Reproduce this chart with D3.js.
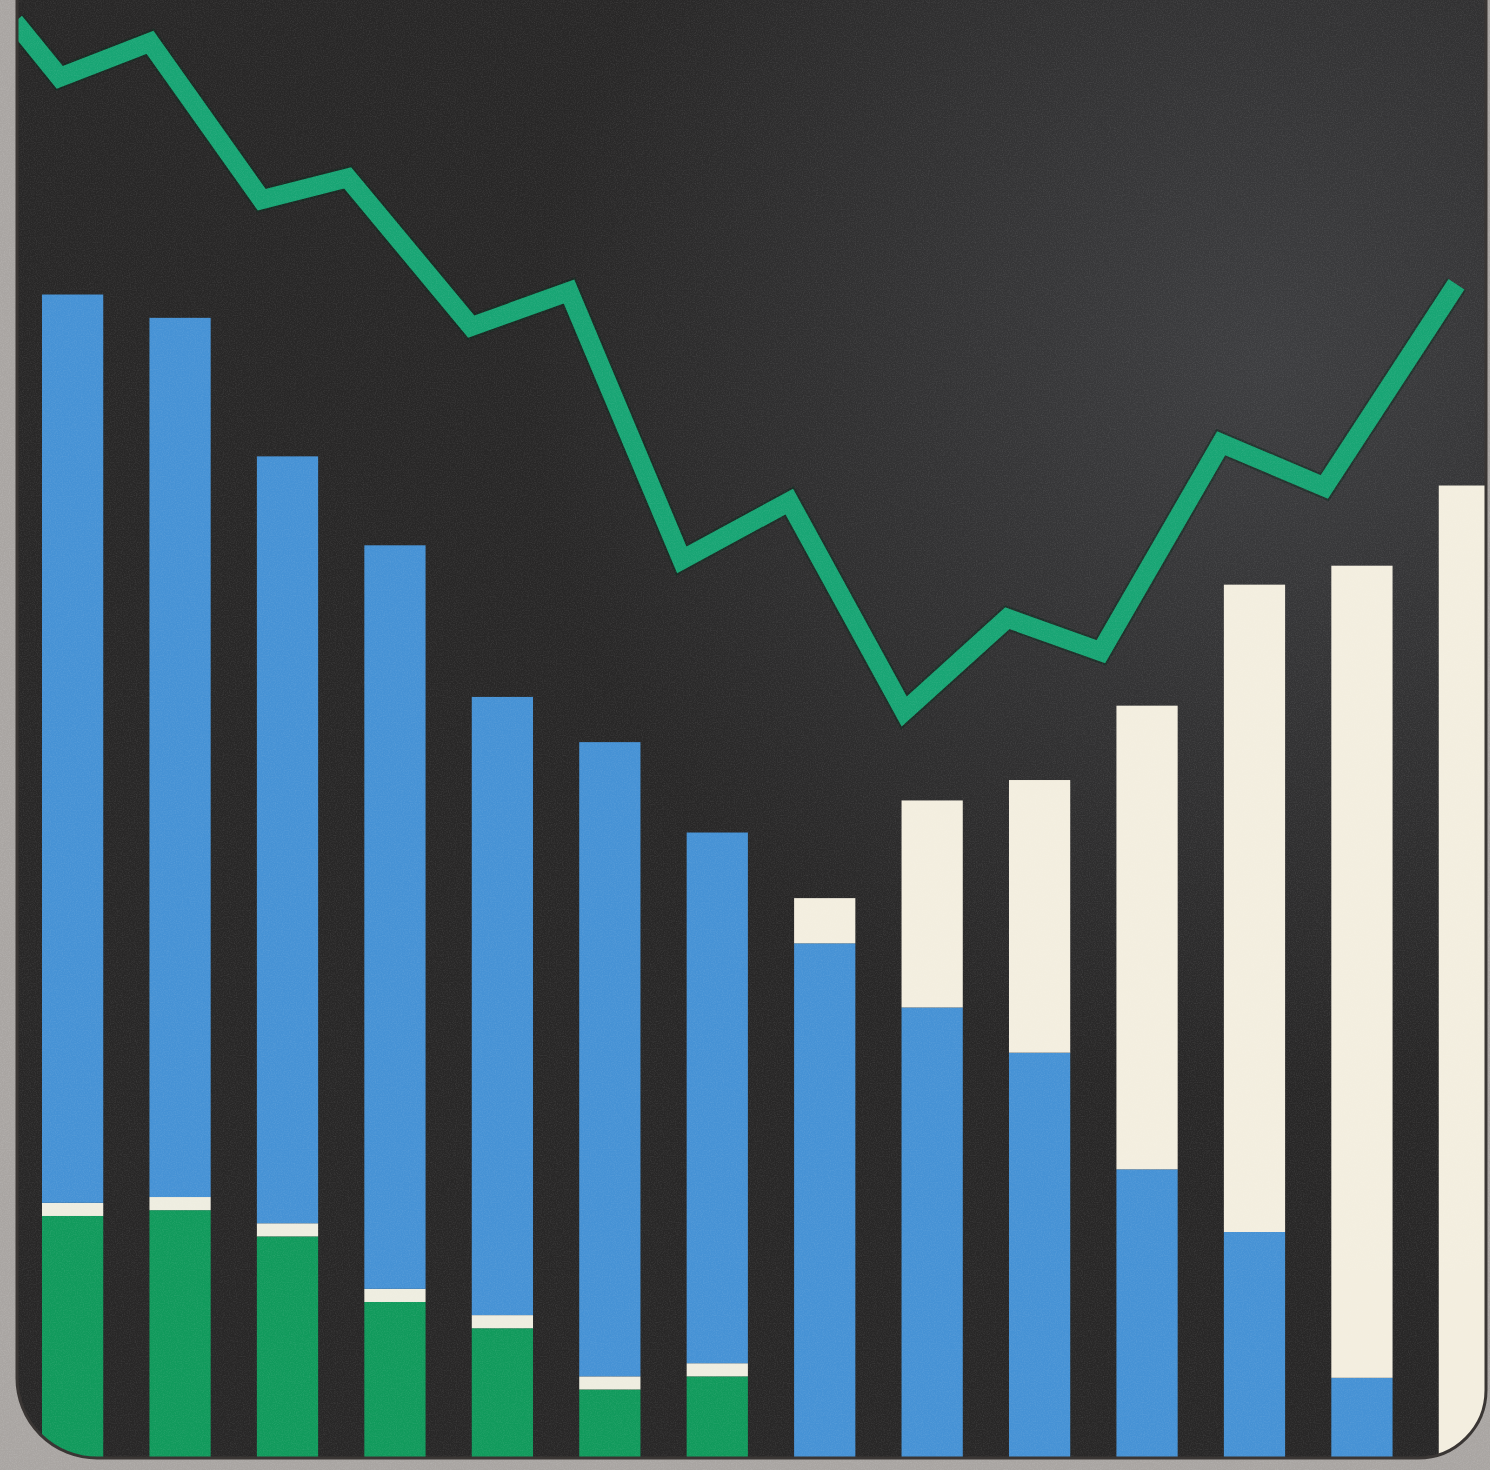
<!DOCTYPE html>
<html>
<head>
<meta charset="utf-8">
<script src="https://cdn.jsdelivr.net/npm/d3@7"></script>
<style>
    html, body { margin: 0; padding: 0; background: #a9a5a2; }
    svg { display: block; }
</style>
</head>
<body>
<div id="chart"></div>
<script>
// 14 periods, stacked bar segments (0-100 scale)
const periods = d3.range(1, 15).map(d => "P" + d);
const greenVals = [16.6, 17.0, 15.2, 10.7, 8.9, 4.7, 5.6, 0, 0, 0, 0, 0, 0, 0];
const dividerVals = [0.9, 0.9, 0.9, 0.9, 0.9, 0.9, 0.9, 0, 0, 0, 0, 0, 0, 0];
const blueVals = [62.3, 60.3, 52.6, 51.0, 42.4, 43.5, 36.4, 35.3, 30.9, 27.8, 19.8, 15.5, 5.5, 0];
const creamVals = [0, 0, 0, 0, 0, 0, 0, 3.1, 14.2, 18.7, 31.8, 44.4, 55.7, 66.7];

// zig-zag trend line: position in period units, value on the same 0-100 scale
const linePos = [-0.54, -0.12, 0.72, 1.76, 2.56, 3.71, 4.62, 5.67, 6.67, 7.74, 8.70, 9.57, 10.69, 11.65, 12.88];
const lineVals = [98.5, 94.7, 97.1, 86.3, 87.8, 77.6, 80.0, 61.6, 65.6, 51.2, 57.6, 55.3, 69.6, 66.6, 80.5];

const width = 1490;
const height = 1470;
const panel = { left: 17, right: 1486, top: -40, bottom: 1458, rLeft: 80, rRight: 68 };

const colors = {
    green: "#119a5c",
    divider: "#eeede0",
    blue: "#4692d5",
    cream: "#f3eedf",
    line: "#18a574",
    panel: "#282727"
};

const svg = d3.select("#chart").append("svg")
    .attr("width", width)
    .attr("height", height)
    .attr("viewBox", `0 0 ${width} ${height}`);

const defs = svg.append("defs");

const outline = (closed) => {
    const p = panel;
    const body = `V${p.bottom - p.rLeft} A${p.rLeft},${p.rLeft} 0 0 0 ${p.left + p.rLeft},${p.bottom}` +
        ` H${p.right - p.rRight} A${p.rRight},${p.rRight} 0 0 0 ${p.right},${p.bottom - p.rRight} V${p.top}`;
    return `M${p.left},${p.top} ` + body + (closed ? " Z" : "");
};

defs.append("clipPath").attr("id", "panel-clip")
    .append("path")
    .attr("d", outline(true));

const noise = defs.append("filter").attr("id", "grain")
    .attr("x", 0).attr("y", 0).attr("width", "100%").attr("height", "100%");
noise.append("feTurbulence")
    .attr("type", "fractalNoise")
    .attr("baseFrequency", 0.85)
    .attr("numOctaves", 2)
    .attr("seed", 7);
noise.append("feColorMatrix")
    .attr("values", "0 0 0 0 1  0 0 0 0 1  0 0 0 0 1  0 0 0 0.9 -0.35");

const haze = defs.append("radialGradient").attr("id", "haze")
    .attr("cx", 0.85).attr("cy", 0.25).attr("r", 0.5);
haze.append("stop").attr("offset", 0).attr("stop-color", "#6a6e76").attr("stop-opacity", 0.32);
haze.append("stop").attr("offset", 1).attr("stop-color", "#6a6e76").attr("stop-opacity", 0);

// grey frame texture
svg.append("rect")
    .attr("width", width).attr("height", height)
    .attr("filter", "url(#grain)")
    .attr("opacity", 0.25);

const plate = svg.append("g").attr("clip-path", "url(#panel-clip)");

plate.append("rect")
    .attr("x", panel.left).attr("y", 0)
    .attr("width", panel.right - panel.left).attr("height", panel.bottom)
    .attr("fill", colors.panel);

plate.append("rect")
    .attr("x", panel.left).attr("y", 0)
    .attr("width", panel.right - panel.left).attr("height", panel.bottom)
    .attr("fill", "url(#haze)");

const x = d3.scaleBand()
    .domain(periods)
    .range([42, 1500])
    .paddingInner(0.43)
    .paddingOuter(0);

const y = d3.scaleLinear()
    .domain([0, 100])
    .range([panel.bottom, 0]);

const xLine = d3.scaleLinear()
    .domain([0, periods.length - 1])
    .range([x(periods[0]) + x.bandwidth() / 2, x(periods[periods.length - 1]) + x.bandwidth() / 2]);

const table = periods.map((p, i) => ({
    period: p,
    green: greenVals[i],
    divider: dividerVals[i],
    blue: blueVals[i],
    cream: creamVals[i]
}));

const keys = ["green", "divider", "blue", "cream"];
const series = d3.stack().keys(keys)(table);

plate.selectAll(".layer")
    .data(series)
    .enter().append("g")
    .attr("class", "layer")
    .attr("fill", d => colors[d.key])
    .selectAll("rect")
    .data(d => d.filter(s => s[1] > s[0]))
    .enter().append("rect")
    .attr("x", d => x(d.data.period))
    .attr("y", d => y(d[1]))
    .attr("width", x.bandwidth())
    .attr("height", d => y(d[0]) - y(d[1]));

const points = linePos.map((p, i) => [xLine(p), y(lineVals[i])]);

plate.append("path")
    .datum(points)
    .attr("fill", "none")
    .attr("stroke", "#0c2a1e")
    .attr("stroke-width", 23)
    .attr("stroke-linejoin", "miter")
    .attr("opacity", 0.5)
    .attr("d", d3.line());

plate.append("path")
    .datum(points)
    .attr("fill", "none")
    .attr("stroke", colors.line)
    .attr("stroke-width", 19)
    .attr("stroke-linejoin", "miter")
    .attr("d", d3.line());

// worn surface speckle
plate.append("rect")
    .attr("x", panel.left).attr("y", 0)
    .attr("width", panel.right - panel.left).attr("height", panel.bottom)
    .attr("filter", "url(#grain)")
    .attr("opacity", 0.18);

// thin dark rim along the plate edge
svg.append("path")
    .attr("d", outline(false))
    .attr("fill", "none")
    .attr("stroke", "#3a3634")
    .attr("stroke-width", 3);
</script>
</body>
</html>
